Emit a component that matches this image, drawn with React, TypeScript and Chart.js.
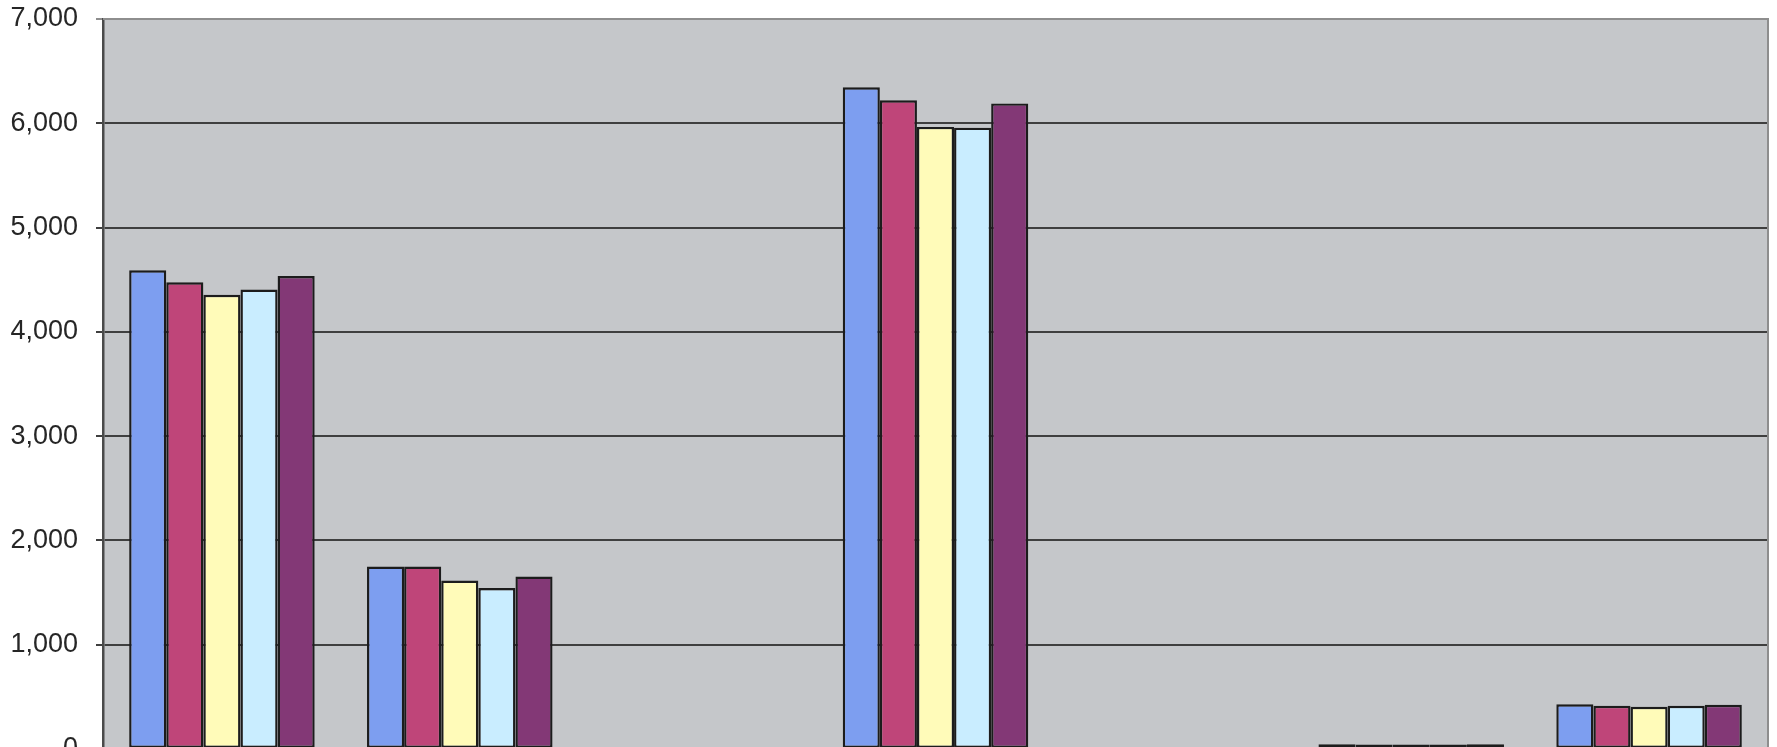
import React, { useEffect, useRef } from "react";
import { Chart, registerables } from "chart.js";

Chart.register(...registerables);

const categories = ["1", "2", "3", "4", "5", "6", "7"];
const seriesNames = ["Series 1", "Series 2", "Series 3", "Series 4", "Series 5"];
const series1 = [4590, 1750, null, 6345, null, 46, 428];
const series2 = [4475, 1750, null, 6220, null, 44, 414];
const series3 = [4355, 1615, null, 5965, null, 44, 404];
const series4 = [4405, 1543, null, 5958, null, 44, 414];
const series5 = [4535, 1654, null, 6190, null, 45, 424];
const seriesColors = ["#7d9ef0", "#bf4579", "#fffbb9", "#c9edff", "#833876"];
const yTicks = [0, 1000, 2000, 3000, 4000, 5000, 6000, 7000];

const plotBg = {
  id: "plotBg",
  beforeDraw(chart: any) {
    const { ctx, chartArea } = chart;
    ctx.save();
    ctx.fillStyle = "#c5c7ca";
    ctx.fillRect(chartArea.left, chartArea.top, chartArea.right - chartArea.left, chartArea.bottom - chartArea.top);
    ctx.restore();
  },
  afterDraw(chart: any) {
    const { ctx, chartArea } = chart;
    ctx.save();
    ctx.strokeStyle = "#8e8e8e";
    ctx.lineWidth = 2;
    ctx.beginPath();
    ctx.moveTo(chartArea.left, chartArea.top);
    ctx.lineTo(chartArea.right, chartArea.top);
    ctx.lineTo(chartArea.right, chartArea.bottom);
    ctx.stroke();
    ctx.restore();
  },
};

export default function App() {
  const ref = useRef<HTMLCanvasElement>(null);
  useEffect(() => {
    if (!ref.current) return;
    const all = [series1, series2, series3, series4, series5];
    const chart = new Chart(ref.current, {
      type: "bar",
      data: {
        labels: categories,
        datasets: all.map((d, i) => ({
          label: seriesNames[i],
          data: d,
          backgroundColor: seriesColors[i],
          borderColor: "#1c1c1c",
          borderWidth: 2.4,
          borderSkipped: false,
          categoryPercentage: 0.78,
          barPercentage: 1.0,
        })),
      },
      options: {
        animation: false,
        responsive: false,
        devicePixelRatio: 1,
        layout: { padding: { top: 19, right: 9, bottom: 51, left: 0 } },
        plugins: { legend: { display: false }, tooltip: { enabled: false } },
        scales: {
          x: {
            grid: { display: false },
            ticks: { display: false },
            border: { display: false },
            afterFit: (s: any) => { s.height = 0; s.paddingLeft = 0; s.paddingRight = 0; },
          },
          y: {
            min: 0,
            max: 7000,
            afterBuildTicks: (s: any) => { s.ticks = yTicks.map((v) => ({ value: v })); },
            afterFit: (s: any) => { s.width = 103; s.paddingTop = 0; s.paddingBottom = 0; },
            ticks: {
              padding: 18,
              color: "#262626",
              font: { family: "'Liberation Sans', Arial, sans-serif", size: 27 },
              callback: (v: any) => Number(v).toLocaleString("en-US"),
            },
            grid: {
              color: (c: any) => (c.tick && c.tick.value === 7000 ? "#8e8e8e" : "#3f3f3f"),
              lineWidth: 2,
              tickLength: 7,
              drawTicks: true,
            },
            border: { display: true, color: "#4a4a4a", width: 2.5 },
          },
        },
      },
      plugins: [plotBg],
    });
    return () => chart.destroy();
  }, []);
  return (
    <div style={{ position: "fixed", left: 0, top: 0, width: 1777, height: 747, overflow: "hidden", background: "#fff" }}>
      <canvas ref={ref} width={1777} height={800} style={{ display: "block", width: 1777, height: 800 }} />
    </div>
  );
}
